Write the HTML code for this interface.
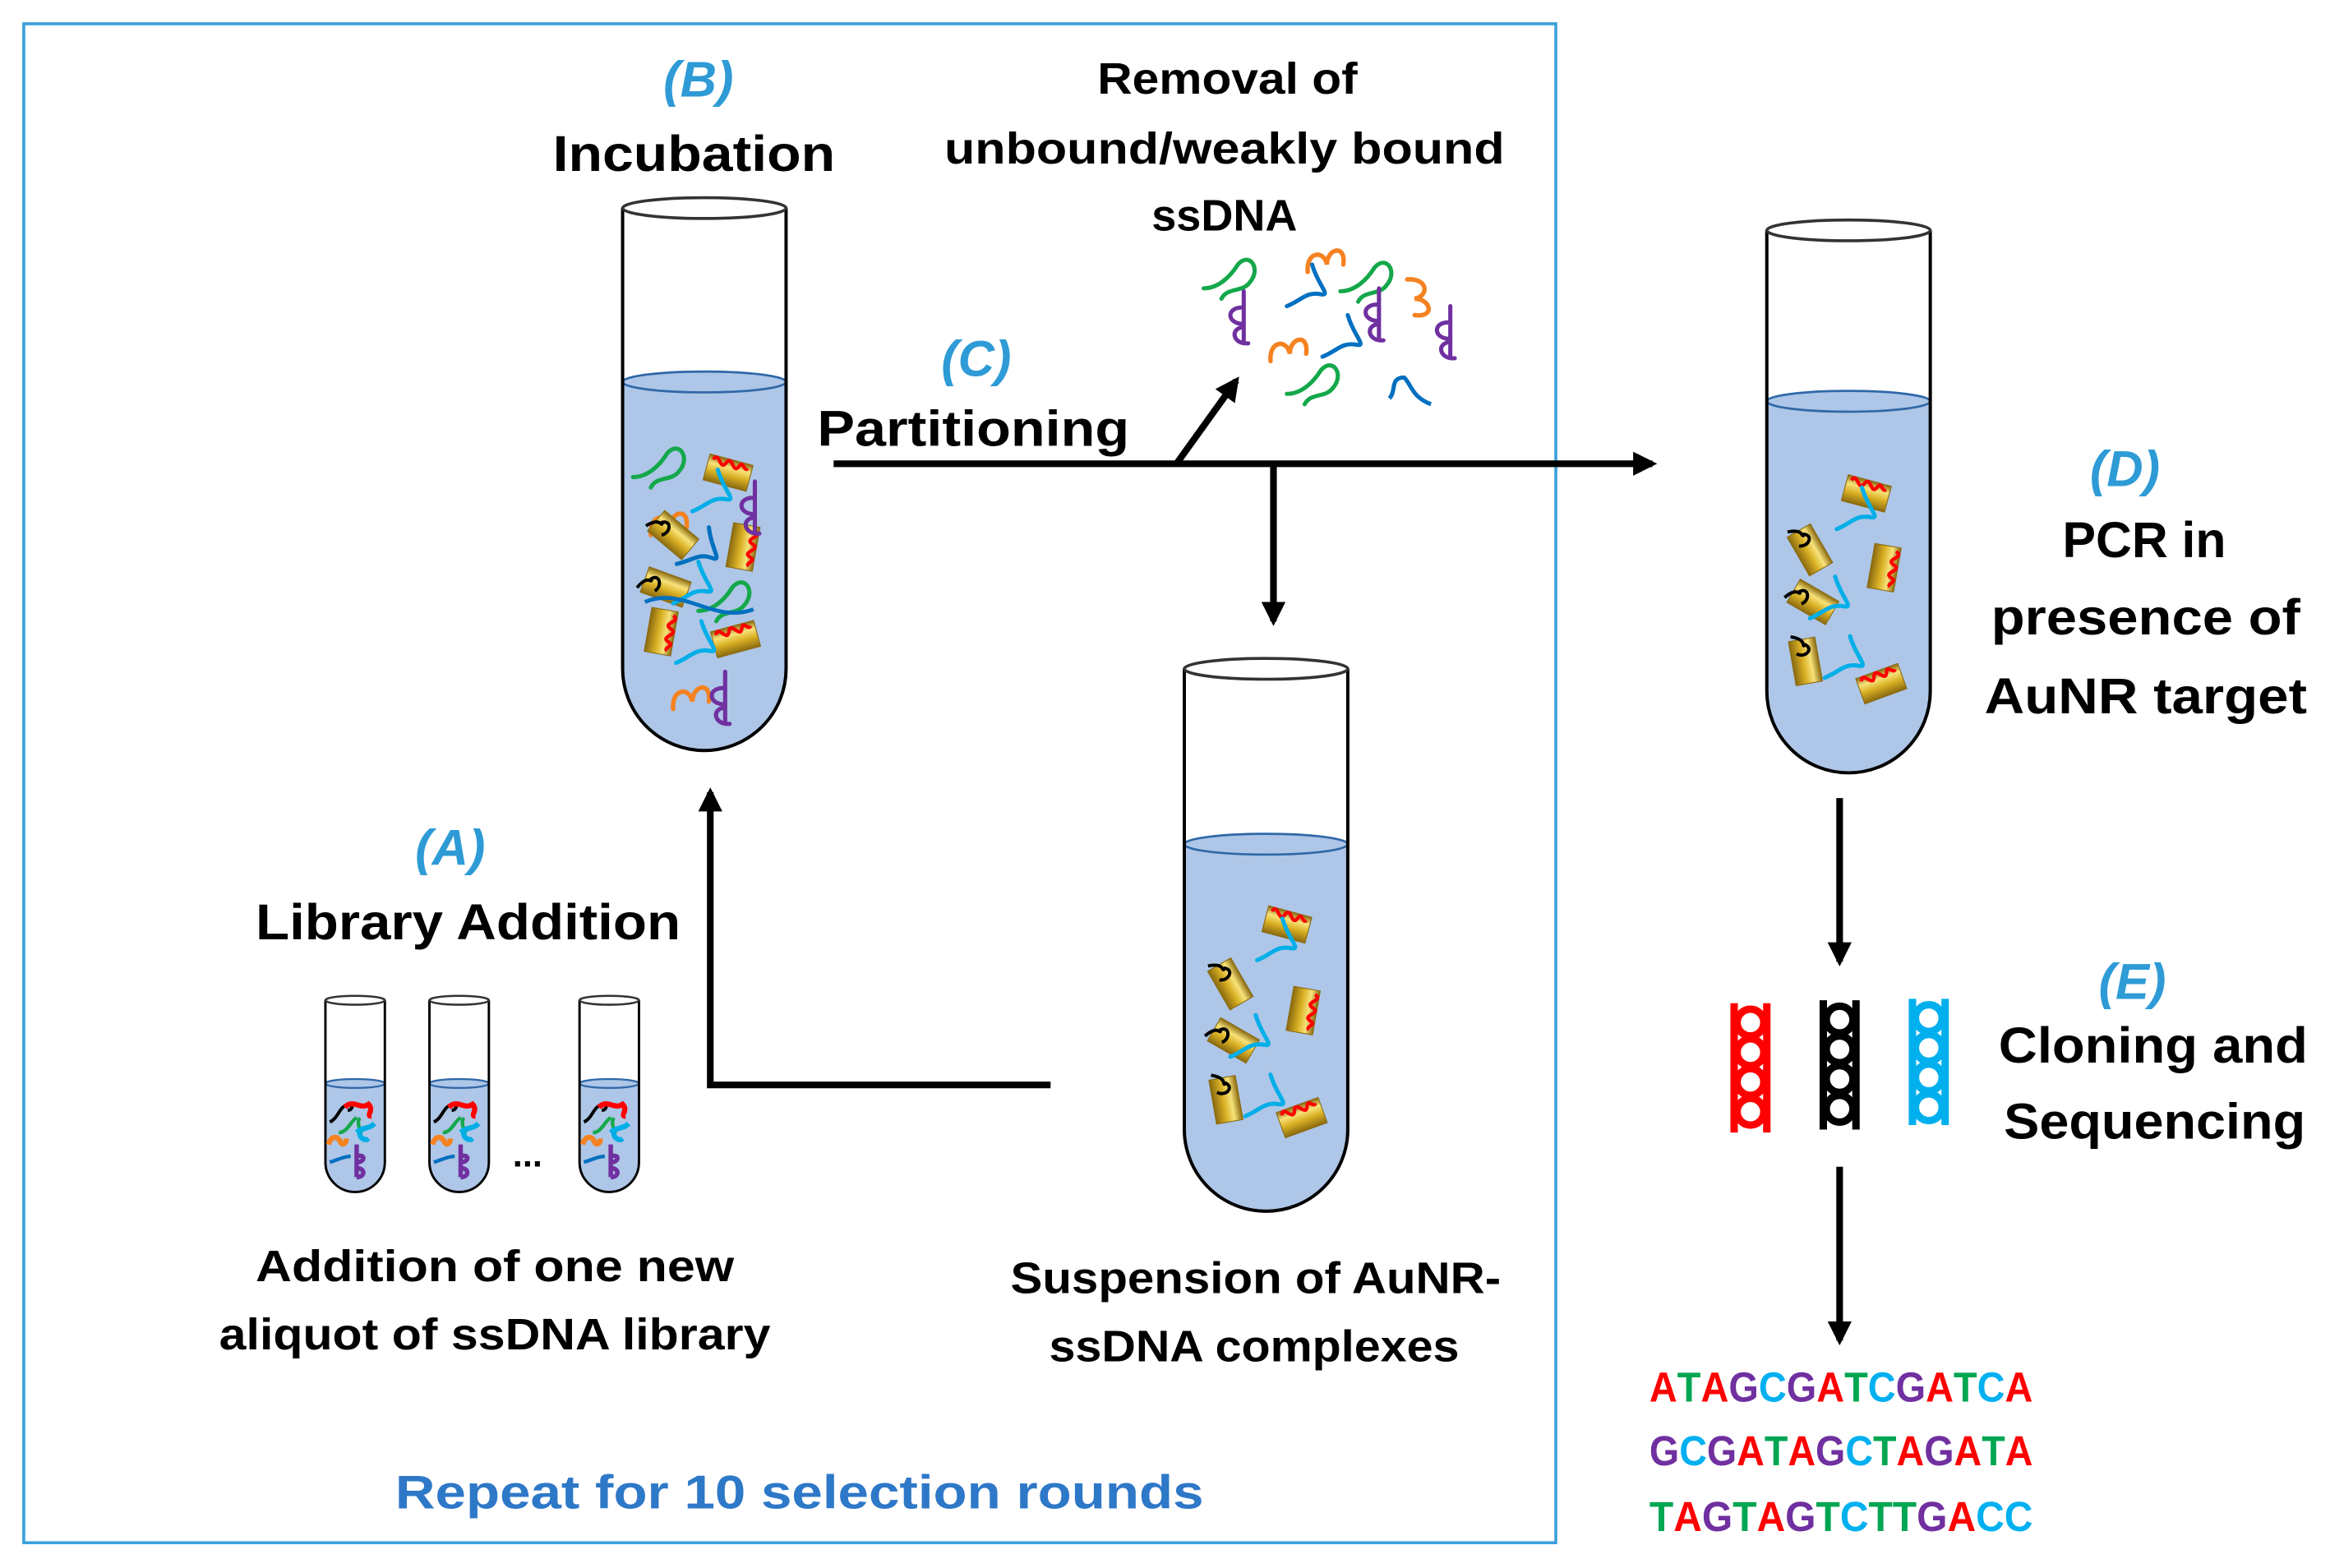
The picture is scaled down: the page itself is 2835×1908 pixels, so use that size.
<!DOCTYPE html>
<html><head><meta charset="utf-8"><style>
html,body{margin:0;padding:0;background:#fff;}
svg{display:block;}
text{font-family:"Liberation Sans",sans-serif;font-weight:bold;}
</style></head><body>
<svg width="2835" height="1908" viewBox="0 0 1568 1055" preserveAspectRatio="none" xmlns="http://www.w3.org/2000/svg">
<defs>
<linearGradient id="gold" x1="0" y1="0" x2="0" y2="1">
<stop offset="0" stop-color="#8a6a10"/><stop offset="0.3" stop-color="#f7e27a"/><stop offset="0.6" stop-color="#d9b024"/><stop offset="1" stop-color="#8a6a10"/></linearGradient>
<marker id="ah" viewBox="0 0 10 10" refX="8" refY="5" markerWidth="3.6" markerHeight="3.6" orient="auto"><path d="M0 0 L10 5 L0 10 z" fill="#000"/></marker>
<path id="sg" d="M0 13 C10 13 18 5 23 -3 C31 -12 39 0 31 9 C26 16 16 12 12 20" fill="none" stroke-width="2.8" stroke-linecap="round"/>
<path id="sp" d="M12 -14 L12 20 M12 -3 C0 -4 0 8 12 8 M12 10 C2 11 5 22 15 21" fill="none" stroke-width="2.8" stroke-linecap="round"/>
<path id="so" d="M0 15 C-1 1 11 0 13 10 C13 -1 26 -4 24 10" fill="none" stroke-width="3" stroke-linecap="round"/>
<path id="sb" d="M0 18 C10 14 13 8 23 10 C30 11 21 4 17 -10" fill="none" stroke-width="2.8" stroke-linecap="round"/>
<g id="rod"><rect x="-15" y="-9" width="30" height="18" fill="url(#gold)" stroke="#8a6a10" stroke-width="0.6"/><path d="M-12 -6 c3 -7 6 7 9 0 c3 -7 6 7 9 0 c2 -5 4 3 6 0" fill="none" stroke="#f00" stroke-width="2.4"/></g>
<g id="rodk"><rect x="-15" y="-9" width="30" height="18" fill="url(#gold)" stroke="#8a6a10" stroke-width="0.6"/><path d="M-18 7 c4 -12 9 -5 7 -9 c4 -5 9 2 5 7" fill="none" stroke="#000" stroke-width="2.2"/></g>
</defs>
<rect x="16" y="16" width="1031" height="1022" fill="none" stroke="#3aa0dc" stroke-width="2"/>

<!-- Tube B -->
<g>
<path d="M419 257 L419 450 A55 55 0 0 0 529 450 L529 257 Z" fill="#aec6e7"/>
<ellipse cx="474" cy="257" rx="55" ry="7" fill="#aec6e7" stroke="#2f68a8" stroke-width="1.5"/>
<path d="M419 140 L419 450 A55 55 0 0 0 529 450 L529 140" fill="none" stroke="#000" stroke-width="2.2"/>
<ellipse cx="474" cy="140" rx="55" ry="7" fill="#fff" stroke="#333" stroke-width="2"/>
<use href="#sg" x="426" y="308" stroke="#14a84a"/>
<use href="#rod" transform="translate(490 318) rotate(15)"/>
<use href="#sb" x="466" y="326" stroke="#00aee8"/>
<use href="#so" x="438" y="345" stroke="#f58220"/>
<use href="#rodk" transform="translate(453 360) rotate(40)"/>
<use href="#sb" x="458" y="362" stroke="#0070c0" transform="rotate(10 460 365)"/>
<use href="#rod" transform="translate(500 368) rotate(100)"/>
<use href="#sp" x="496" y="338" stroke="#7030a0"/>
<use href="#rodk" transform="translate(448 395) rotate(20)"/>
<use href="#sb" x="453" y="388" stroke="#00aee8"/>
<use href="#sg" x="470" y="398" stroke="#14a84a"/>
<path d="M434 405 C460 394 480 420 507 410" fill="none" stroke="#0070c0" stroke-width="2.6"/>
<use href="#rod" transform="translate(445 425) rotate(100)"/>
<use href="#rod" transform="translate(495 430) rotate(-15)"/>
<use href="#sb" x="455" y="428" stroke="#00aee8"/>
<use href="#so" x="453" y="462" stroke="#f58220"/>
<use href="#sp" x="476" y="466" stroke="#7030a0"/>
</g>

<!-- Tube suspension -->
<g>
<path d="M797 568 L797 760 A55 55 0 0 0 907 760 L907 568 Z" fill="#aec6e7"/>
<ellipse cx="852" cy="568" rx="55" ry="7" fill="#aec6e7" stroke="#2f68a8" stroke-width="1.5"/>
<path d="M797 450 L797 760 A55 55 0 0 0 907 760 L907 450" fill="none" stroke="#000" stroke-width="2.2"/>
<ellipse cx="852" cy="450" rx="55" ry="7" fill="#fff" stroke="#333" stroke-width="2"/>
<use href="#rod" transform="translate(866 622) rotate(15)"/>
<use href="#sb" x="846" y="628" stroke="#00aee8"/>
<use href="#rodk" transform="translate(828 662) rotate(60)"/>
<use href="#rod" transform="translate(877 680) rotate(100)"/>
<use href="#rodk" transform="translate(830 700) rotate(30)"/>
<use href="#sb" x="828" y="693" stroke="#00aee8"/>
<use href="#rodk" transform="translate(825 740) rotate(80)"/>
<use href="#sb" x="838" y="733" stroke="#00aee8"/>
<use href="#rod" transform="translate(876 752) rotate(-20)"/>
</g>

<!-- Tube D -->
<g>
<path d="M1189 270 L1189 465 A55 55 0 0 0 1299 465 L1299 270 Z" fill="#aec6e7"/>
<ellipse cx="1244" cy="270" rx="55" ry="7" fill="#aec6e7" stroke="#2f68a8" stroke-width="1.5"/>
<path d="M1189 155 L1189 465 A55 55 0 0 0 1299 465 L1299 155" fill="none" stroke="#000" stroke-width="2.2"/>
<ellipse cx="1244" cy="155" rx="55" ry="7" fill="#fff" stroke="#333" stroke-width="2"/>
<use href="#rod" transform="translate(1256 332) rotate(15)"/>
<use href="#sb" x="1236" y="338" stroke="#00aee8"/>
<use href="#rodk" transform="translate(1218 370) rotate(60)"/>
<use href="#rod" transform="translate(1268 382) rotate(100)"/>
<use href="#rodk" transform="translate(1220 405) rotate(30)"/>
<use href="#sb" x="1218" y="398" stroke="#00aee8"/>
<use href="#rodk" transform="translate(1215 445) rotate(80)"/>
<use href="#sb" x="1228" y="438" stroke="#00aee8"/>
<use href="#rod" transform="translate(1266 460) rotate(-20)"/>
</g>

<!-- small tubes -->
<g id="st1">
<path d="M219 729 L219 782 A20 20 0 0 0 259 782 L259 729 Z" fill="#aec6e7"/>
<ellipse cx="239" cy="729" rx="20" ry="3" fill="#aec6e7" stroke="#2f68a8" stroke-width="1.3"/>
<path d="M219 673 L219 782 A20 20 0 0 0 259 782 L259 673" fill="none" stroke="#000" stroke-width="1.6"/>
<ellipse cx="239" cy="673" rx="20" ry="3" fill="#fff" stroke="#333" stroke-width="1.4"/>
<path d="M222 755 c6 -3 6 -10 12 -12 c4 -2 4 4 0 4" fill="none" stroke="#000" stroke-width="2.2"/>
<path d="M232 745 c6 -6 10 2 16 -2 c4 4 -2 8 2 8" fill="none" stroke="#f00" stroke-width="3.5"/>
<path d="M228 762 c6 0 8 -8 12 -10 m2 0 c-2 4 0 8 2 10" fill="none" stroke="#14a84a" stroke-width="2.4"/>
<path d="M240 762 c4 -4 8 -2 12 -6 m-10 6 c0 4 4 6 6 4" fill="none" stroke="#00aee8" stroke-width="3.5"/>
<path d="M221 770 c2 -6 6 -6 8 -2 c1 3 4 2 4 -2" fill="none" stroke="#f58220" stroke-width="3.5"/>
<path d="M240 770 l0 22 m0 -14 c6 -2 6 4 0 4 m0 4 c6 0 6 6 0 6" fill="none" stroke="#7030a0" stroke-width="3"/>
<path d="M222 782 c6 -2 10 -4 14 -4" fill="none" stroke="#0070c0" stroke-width="2.4"/>
</g>
<use href="#st1" x="70" y="0"/>
<use href="#st1" x="171" y="0"/>
<text x="355" y="785" font-size="24" text-anchor="middle">...</text>

<!-- removed ssDNA -->
<use href="#sg" x="810" y="181" stroke="#14a84a"/>
<use href="#so" x="880" y="168" stroke="#f58220"/>
<use href="#sb" x="866" y="188" stroke="#0070c0"/>
<use href="#sg" x="902" y="183" stroke="#14a84a"/>
<use href="#so" x="948" y="188" stroke="#f58220" transform="rotate(90 955 195)"/>
<use href="#sp" x="825" y="210" stroke="#7030a0"/>
<use href="#so" x="855" y="228" stroke="#f58220"/>
<use href="#sb" x="890" y="222" stroke="#0070c0"/>
<use href="#sp" x="916" y="208" stroke="#7030a0"/>
<use href="#sp" x="964" y="220" stroke="#7030a0"/>
<use href="#sg" x="866" y="252" stroke="#14a84a"/>
<path d="M935 268 c5 -5 0 -14 10 -14 c5 5 5 13 18 18" fill="none" stroke="#0070c0" stroke-width="2.8"/>

<!-- arrows -->
<g stroke="#000" stroke-width="4.5" fill="none">
<line x1="561" y1="312" x2="1112" y2="312" marker-end="url(#ah)"/>
<line x1="791" y1="313" x2="832" y2="256" marker-end="url(#ah)"/>
<line x1="857" y1="312" x2="857" y2="418" marker-end="url(#ah)"/>
<polyline points="707,730 478,730 478,533" marker-end="url(#ah)"/>
<line x1="1238" y1="537" x2="1238" y2="647" marker-end="url(#ah)"/>
<line x1="1238" y1="785" x2="1238" y2="902" marker-end="url(#ah)"/>
</g>

<!-- helices -->
<g fill="none" stroke-width="5">
<g stroke="#f00"><path d="M1167 675 L1167 762 M1189 675 L1189 762"/><circle cx="1178" cy="688" r="9"/><circle cx="1178" cy="708" r="9"/><circle cx="1178" cy="728" r="9"/><circle cx="1178" cy="748" r="9"/></g>
<g stroke="#000"><path d="M1227 673 L1227 760 M1249 673 L1249 760"/><circle cx="1238" cy="686" r="9"/><circle cx="1238" cy="706" r="9"/><circle cx="1238" cy="726" r="9"/><circle cx="1238" cy="746" r="9"/></g>
<g stroke="#00b0ee"><path d="M1287 672 L1287 757 M1309 672 L1309 757"/><circle cx="1298" cy="685" r="9"/><circle cx="1298" cy="705" r="9"/><circle cx="1298" cy="725" r="9"/><circle cx="1298" cy="745" r="9"/></g>
</g>

<!-- texts -->
<g fill="#2e9bd6" font-style="italic" font-size="34" text-anchor="middle">
<text x="470" y="65">(B)</text>
<text x="657" y="253">(C)</text>
<text x="1430" y="327">(D)</text>
<text x="303" y="582">(A)</text>
<text x="1435" y="672">(E)</text>
</g>
<g fill="#000" text-anchor="middle">
<text x="467" y="115" font-size="34" textLength="190" lengthAdjust="spacingAndGlyphs">Incubation</text>
<text x="826" y="63" font-size="30" textLength="175" lengthAdjust="spacingAndGlyphs">Removal of</text>
<text x="824" y="110" font-size="30" textLength="377" lengthAdjust="spacingAndGlyphs">unbound/weakly  bound</text>
<text x="824" y="155" font-size="30" textLength="98" lengthAdjust="spacingAndGlyphs">ssDNA</text>
<text x="655" y="300" font-size="34" textLength="210" lengthAdjust="spacingAndGlyphs">Partitioning</text>
<text x="1443" y="375" font-size="34" textLength="110" lengthAdjust="spacingAndGlyphs">PCR in</text>
<text x="1444" y="427" font-size="34" textLength="208" lengthAdjust="spacingAndGlyphs">presence of</text>
<text x="1444" y="480" font-size="34" textLength="217" lengthAdjust="spacingAndGlyphs">AuNR target</text>
<text x="315" y="632" font-size="34" textLength="286" lengthAdjust="spacingAndGlyphs">Library Addition</text>
<text x="333" y="862" font-size="30" textLength="322" lengthAdjust="spacingAndGlyphs">Addition of one new</text>
<text x="333" y="908" font-size="30" textLength="371" lengthAdjust="spacingAndGlyphs">aliquot of ssDNA library</text>
<text x="845" y="870" font-size="30" textLength="330" lengthAdjust="spacingAndGlyphs">Suspension  of AuNR-</text>
<text x="844" y="916" font-size="30" textLength="276" lengthAdjust="spacingAndGlyphs">ssDNA complexes</text>
<text x="1449" y="715" font-size="34" textLength="208" lengthAdjust="spacingAndGlyphs">Cloning and</text>
<text x="1450" y="766" font-size="34" textLength="203" lengthAdjust="spacingAndGlyphs">Sequencing</text>
</g>
<text x="538" y="1015" font-size="32" fill="#2e78c8" text-anchor="middle" textLength="544" lengthAdjust="spacingAndGlyphs">Repeat for 10 selection rounds</text>

<g font-size="28">
<text x="1110" y="943" textLength="258" lengthAdjust="spacingAndGlyphs"><tspan fill="#f00">A</tspan><tspan fill="#00a651">T</tspan><tspan fill="#f00">A</tspan><tspan fill="#7030a0">G</tspan><tspan fill="#00b0f0">C</tspan><tspan fill="#7030a0">G</tspan><tspan fill="#f00">A</tspan><tspan fill="#00a651">T</tspan><tspan fill="#00b0f0">C</tspan><tspan fill="#7030a0">G</tspan><tspan fill="#f00">A</tspan><tspan fill="#00a651">T</tspan><tspan fill="#00b0f0">C</tspan><tspan fill="#f00">A</tspan></text>
<text x="1110" y="986" textLength="258" lengthAdjust="spacingAndGlyphs"><tspan fill="#7030a0">G</tspan><tspan fill="#00b0f0">C</tspan><tspan fill="#7030a0">G</tspan><tspan fill="#f00">A</tspan><tspan fill="#00a651">T</tspan><tspan fill="#f00">A</tspan><tspan fill="#7030a0">G</tspan><tspan fill="#00b0f0">C</tspan><tspan fill="#00a651">T</tspan><tspan fill="#f00">A</tspan><tspan fill="#7030a0">G</tspan><tspan fill="#f00">A</tspan><tspan fill="#00a651">T</tspan><tspan fill="#f00">A</tspan></text>
<text x="1110" y="1030" textLength="258" lengthAdjust="spacingAndGlyphs"><tspan fill="#00a651">T</tspan><tspan fill="#f00">A</tspan><tspan fill="#7030a0">G</tspan><tspan fill="#00a651">T</tspan><tspan fill="#f00">A</tspan><tspan fill="#7030a0">G</tspan><tspan fill="#00a651">T</tspan><tspan fill="#00b0f0">C</tspan><tspan fill="#00a651">T</tspan><tspan fill="#00a651">T</tspan><tspan fill="#7030a0">G</tspan><tspan fill="#f00">A</tspan><tspan fill="#00b0f0">C</tspan><tspan fill="#00b0f0">C</tspan></text>
</g>
</svg>
</body></html>
